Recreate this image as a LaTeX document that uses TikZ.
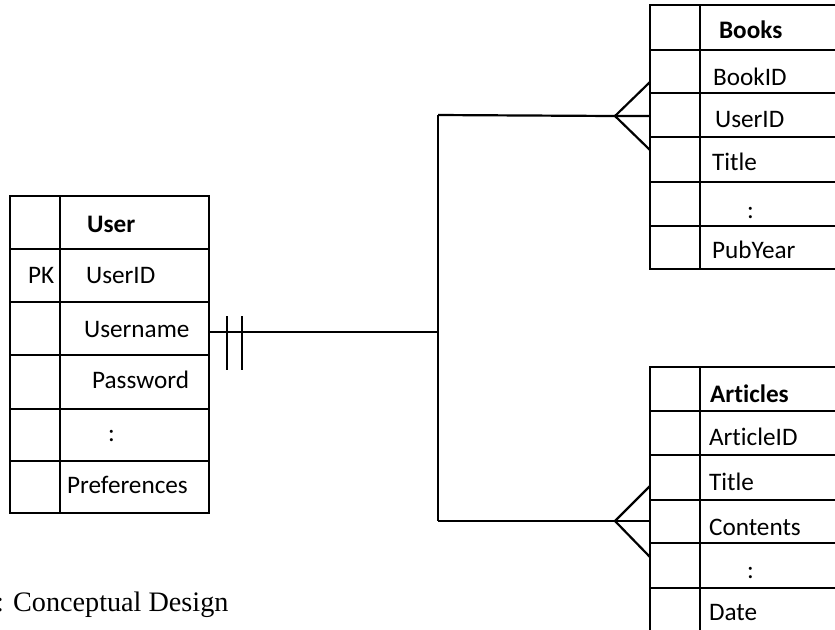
\documentclass[tikz,border=0pt]{standalone}
\usepackage{fontspec}
\setmainfont[Ligatures=NoCommon]{Carlito}
\newfontfamily\capfont{Liberation Serif}
\begin{document}
\begin{tikzpicture}[x=0.5pt,y=-0.5pt,line width=1.1pt,
  txt/.style={anchor=base west,inner sep=0pt,font=\fontsize{12.6}{15}\selectfont},
  hdr/.style={anchor=base west,inner sep=0pt,font=\fontsize{12.6}{15}\selectfont\bfseries},
  captext/.style={anchor=base west,inner sep=0pt,font=\capfont\fontsize{14.1}{17}\selectfont},
  rel/.style={line width=1.1pt}]
\useasboundingbox (0,0) rectangle (835,629);
\clip (0,0) rectangle (835,629);

% ---------- User table ----------
\draw (10,196) rectangle (209,513);
\draw (60,196) -- (60,513);
\foreach \y in {249,302,355,409,461} \draw (10,\y) -- (209,\y);
\node[hdr] (uH) at (86,232) {User};
\node[txt] (uPK) at (27,283) {PK};
\node[txt] (uA1) at (85,283) {UserID};
\node[txt] (uA2) at (83,337) {Username};
\node[txt] (uA3) at (91,388) {Password};
\node[txt] (uA4) at (107,441) {:};
\node[txt] (uA5) at (66,493) {Preferences};

% ---------- Books table ----------
\draw (850,5) -- (650,5) -- (650,269) -- (850,269);
\draw (700,5) -- (700,269);
\foreach \y in {50,93,137,182,226} \draw (650,\y) -- (850,\y);
\node[hdr] (bH) at (718,38) {Books};
\node[txt] (bA1) at (712,85) {BookID};
\node[txt] (bA2) at (714,127) {UserID};
\node[txt] (bA3) at (711,170) {Title};
\node[txt] (bA4) at (746,218) {:};
\node[txt] (bA5) at (711,258) {PubYear};

% ---------- Articles table ----------
\draw (850,367) -- (650,367) -- (650,640);
\draw (700,367) -- (700,640);
\foreach \y in {411,455,500,543,588} \draw (650,\y) -- (850,\y);
\node[hdr] (aH) at (709,402) {Articles};
\node[txt] (aA1) at (708,445) {ArticleID};
\node[txt] (aA2) at (708,490) {Title};
\node[txt] (aA3) at (708,535) {Contents};
\node[txt] (aA4) at (746,578) {:};
\node[txt] (aA5) at (708,620) {Date};

% ---------- relationship ----------
\coordinate (uEnd) at (209,332);
\coordinate (junc) at (438,332);
\coordinate (jTop) at (438,115);
\coordinate (jBot) at (438,521);
\coordinate (bApex) at (615,116);
\coordinate (b1) at (650,82);
\coordinate (b2) at (650,116);
\coordinate (b3) at (650,150);
\coordinate (aApex) at (615,521);
\coordinate (a1) at (650,486);
\coordinate (a2) at (650,521);
\coordinate (a3) at (650,557);
\coordinate (t1a) at (227,316);
\coordinate (t1b) at (227,370);
\coordinate (t2a) at (242,316);
\coordinate (t2b) at (242,370);

\draw[rel] (uEnd) -- (junc);
\draw[rel] (t1a) -- (t1b);
\draw[rel] (t2a) -- (t2b);
\draw[rel] (jTop) -- (jBot);
\draw[rel] (jTop) -- (bApex) -- (b2);
\draw[rel] (b1) -- (bApex) -- (b3);
\draw[rel] (jBot) -- (aApex) -- (a2);
\draw[rel] (a1) -- (aApex) -- (a3);

% ---------- caption ----------
\node[captext,anchor=base east] (capcolon) at (5,611) {:};
\node[captext] (caption) at (12,611) {Conceptual Design};
\end{tikzpicture}
\end{document}
